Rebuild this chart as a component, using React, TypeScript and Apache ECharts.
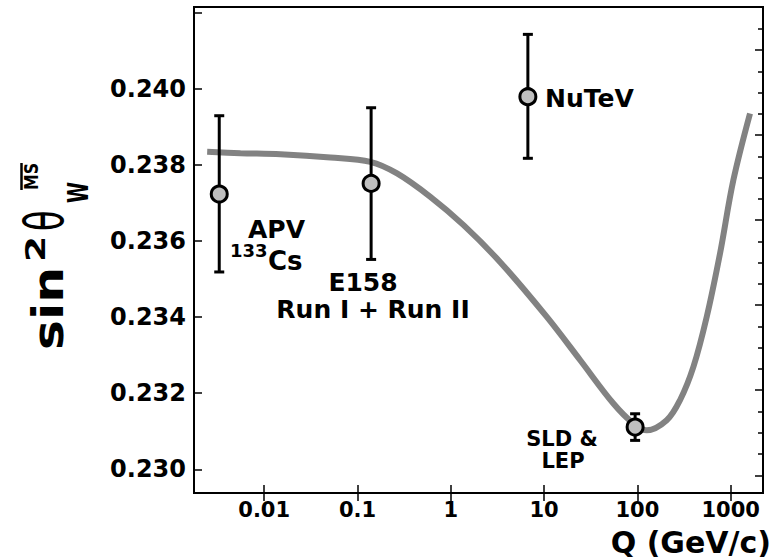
import React, { useEffect, useRef } from "react";
import * as echarts from "echarts";

// ---- Data ----
const pointNames = ["APV 133Cs", "E158", "NuTeV", "SLD & LEP"];
const pointQ = [0.0033, 0.14, 6.7, 94.5];
const pointVal = [0.23724, 0.23752, 0.2398, 0.23111];
const errLow = [0.23519, 0.23552, 0.23818, 0.23076];
const errHigh = [0.2393, 0.23951, 0.24144, 0.23146];

const curveQ = [
  0.00245, 0.00557, 0.01495, 0.0513, 0.1374, 0.2655, 0.604, 1.371, 3.39,
  10.7, 24.4, 55.3, 90.6, 126, 206, 286, 398, 553, 768, 1067, 1610,
];
const curveVal = [
  0.23835, 0.238316, 0.238289, 0.238203, 0.238087, 0.237782, 0.237166,
  0.236421, 0.235447, 0.234008, 0.232868, 0.231729, 0.231203, 0.231026,
  0.231289, 0.231816, 0.232692, 0.234008, 0.235676, 0.237605, 0.239361,
];

const xTickValues = [0.01, 0.1, 1, 10, 100, 1000];
const xTickLabels = ["0.01", "0.1", "1", "10", "100", "1000"];
const yTickValues = [0.23, 0.232, 0.234, 0.236, 0.238, 0.24, 0.242];
const yLabelValues = [0.23, 0.232, 0.234, 0.236, 0.238, 0.24];
const rightMajorTicks = [17.7, 102.7, 187.7, 272.7, 357.7, 442.7];
const rightMinorTicks = [
  38.95, 60.2, 81.45, 123.95, 145.2, 166.45, 208.95, 230.2, 251.45, 293.95,
  315.2, 336.45, 378.95, 400.2, 421.45, 463.95,
];

const FONT = "DejaVu Sans";

export default function App() {
  const ref = useRef<HTMLDivElement>(null);

  useEffect(() => {
    if (!ref.current) return;
    const chart = echarts.init(ref.current, null, { renderer: "svg" });

    const curveData = curveQ.map((q, i) => [q, curveVal[i]]);
    const errData = pointQ.map((q, i) => [q, errLow[i], errHigh[i]]);
    const ptData = pointQ.map((q, i) => ({ name: pointNames[i], value: [q, pointVal[i]] }));

    const tickStyle = { color: "#000", width: 1.5 };

    const option: any = {
      animation: false,
      backgroundColor: "#fff",
      grid: {
        left: 194,
        right: 12,
        top: 7,
        bottom: 66,
        show: true,
        borderColor: "#000",
        borderWidth: 2,
        backgroundColor: "transparent",
      },
      xAxis: [
        {
          type: "log",
          position: "bottom",
          min: 0.00177,
          max: 2218,
          axisLine: { show: false },
          splitLine: { show: false },
          axisTick: {
            show: true,
            inside: true,
            length: 8,
            lineStyle: tickStyle,
            customValues: xTickValues,
          },
          axisLabel: {
            customValues: xTickValues,
            formatter: (v: number) => {
              let best = 0;
              let bd = Infinity;
              xTickValues.forEach((t, i) => {
                const d = Math.abs(Math.log10(t) - Math.log10(v));
                if (d < bd) {
                  bd = d;
                  best = i;
                }
              });
              return xTickLabels[best];
            },
            color: "#000",
            fontFamily: FONT,
            fontWeight: "bold",
            fontSize: 21,
            margin: 6,
          },
        },
        {
          type: "log",
          position: "top",
          min: 0.00177,
          max: 2218,
          axisLine: { show: false },
          splitLine: { show: false },
          axisTick: {
            show: true,
            inside: true,
            length: 8,
            lineStyle: tickStyle,
            customValues: xTickValues,
          },
          axisLabel: { show: false },
        },
      ],
      yAxis: [
        {
          type: "value",
          position: "left",
          min: 0.229376,
          max: 0.24216,
          axisLine: { show: false },
          splitLine: { show: false },
          axisTick: {
            show: true,
            inside: true,
            length: 8,
            lineStyle: tickStyle,
            customValues: yTickValues,
          },
          axisLabel: {
            customValues: yLabelValues,
            formatter: (v: number) => v.toFixed(3),
            color: "#000",
            fontFamily: FONT,
            fontWeight: "bold",
            fontSize: 24,
            margin: 8,
          },
        },
        {
          type: "value",
          position: "right",
          min: 0,
          max: 485.7,
          axisLine: { show: false },
          splitLine: { show: false },
          axisTick: {
            show: true,
            inside: true,
            length: 8,
            lineStyle: tickStyle,
            customValues: rightMajorTicks,
          },
          axisLabel: { show: false },
        },
        {
          type: "value",
          position: "right",
          min: 0,
          max: 485.7,
          axisLine: { show: false },
          splitLine: { show: false },
          axisTick: {
            show: true,
            inside: true,
            length: 5,
            lineStyle: tickStyle,
            customValues: rightMinorTicks,
          },
          axisLabel: { show: false },
        },
      ],
      series: [
        {
          type: "line",
          xAxisIndex: 0,
          yAxisIndex: 0,
          data: curveData,
          smooth: 0.35,
          showSymbol: false,
          symbol: "none",
          lineStyle: { color: "#828282", width: 6 },
          z: 2,
        },
        {
          type: "custom",
          xAxisIndex: 0,
          yAxisIndex: 0,
          data: errData,
          encode: { x: 0, y: [1, 2] },
          z: 3,
          renderItem: (params: any, api: any) => {
            const q = api.value(0);
            const lo = api.coord([q, api.value(1)]);
            const hi = api.coord([q, api.value(2)]);
            const cap = 5;
            const st = { stroke: "#000", lineWidth: 3 };
            return {
              type: "group",
              children: [
                { type: "line", shape: { x1: hi[0], y1: hi[1], x2: lo[0], y2: lo[1] }, style: st },
                { type: "line", shape: { x1: hi[0] - cap, y1: hi[1], x2: hi[0] + cap, y2: hi[1] }, style: st },
                { type: "line", shape: { x1: lo[0] - cap, y1: lo[1], x2: lo[0] + cap, y2: lo[1] }, style: st },
              ],
            };
          },
        },
        {
          type: "scatter",
          xAxisIndex: 0,
          yAxisIndex: 0,
          data: ptData,
          symbol: "circle",
          symbolSize: 16,
          itemStyle: { color: "#bfbfbf", borderColor: "#000", borderWidth: 3, opacity: 1 },
          z: 4,
        },
      ],
      graphic: [
        // y-axis title: sin^2 theta_W^(MS-bar), rotated
        {
          type: "group",
          x: 52,
          y: 350,
          rotation: Math.PI / 2,
          children: [
            {
              type: "text",
              x: 0,
              y: -3.5,
              scaleX: 1.2,
              style: { text: "sin", fontFamily: FONT, fontWeight: "bold", fontSize: 42, fill: "#000", align: "left", verticalAlign: "middle" },
            },
            {
              type: "text",
              x: 88,
              y: -16.3,
              scaleX: 1.4,
              style: { text: "2", fontFamily: FONT, fontWeight: "bold", fontSize: 27, fill: "#000", align: "left", verticalAlign: "middle" },
            },
            {
              type: "text",
              x: 119,
              y: -8,
              scaleX: 0.62,
              style: { text: "θ", fontFamily: FONT, fontWeight: "normal", fontSize: 54, fill: "#000", align: "left", verticalAlign: "middle" },
            },
            {
              type: "text",
              x: 147,
              y: 26.3,
              scaleX: 0.68,
              style: { text: "W", fontFamily: FONT, fontWeight: "bold", fontSize: 28, fill: "#000", align: "left", verticalAlign: "middle" },
            },
            {
              type: "text",
              x: 160,
              y: -20.6,
              scaleX: 0.83,
              style: { text: "MS", fontFamily: FONT, fontWeight: "bold", fontSize: 19, fill: "#000", align: "left", verticalAlign: "middle" },
            },
            {
              type: "line",
              shape: { x1: 160, y1: -30.5, x2: 187, y2: -30.5 },
              style: { stroke: "#000", lineWidth: 2.5 },
            },
          ],
        },
        // x-axis title
        {
          type: "text",
          right: 4,
          top: 527,
          style: { text: "Q (GeV/c)", fontFamily: FONT, fontWeight: "bold", fontSize: 30, fill: "#000" },
        },
        // point annotations
        {
          type: "text",
          x: 248,
          y: 229.4,
          style: { text: "APV", fontFamily: FONT, fontWeight: "bold", fontSize: 25, fill: "#000", align: "left", verticalAlign: "middle" },
        },
        {
          type: "text",
          x: 230,
          y: 250.8,
          style: { text: "133", fontFamily: FONT, fontWeight: "bold", fontSize: 18, fill: "#000", align: "left", verticalAlign: "middle" },
        },
        {
          type: "text",
          x: 268,
          y: 261,
          style: { text: "Cs", fontFamily: FONT, fontWeight: "bold", fontSize: 26, fill: "#000", align: "left", verticalAlign: "middle" },
        },
        {
          type: "text",
          x: 363,
          y: 282,
          style: { text: "E158", fontFamily: FONT, fontWeight: "bold", fontSize: 25, fill: "#000", align: "center", verticalAlign: "middle" },
        },
        {
          type: "text",
          x: 373,
          y: 309.5,
          style: { text: "Run I + Run II", fontFamily: FONT, fontWeight: "bold", fontSize: 25, fill: "#000", align: "center", verticalAlign: "middle" },
        },
        {
          type: "text",
          x: 545,
          y: 98.3,
          style: { text: "NuTeV", fontFamily: FONT, fontWeight: "bold", fontSize: 25, fill: "#000", align: "left", verticalAlign: "middle" },
        },
        {
          type: "text",
          x: 562,
          y: 439,
          style: { text: "SLD &", fontFamily: FONT, fontWeight: "bold", fontSize: 21, fill: "#000", align: "center", verticalAlign: "middle" },
        },
        {
          type: "text",
          x: 563,
          y: 461,
          style: { text: "LEP", fontFamily: FONT, fontWeight: "bold", fontSize: 21, fill: "#000", align: "center", verticalAlign: "middle" },
        },
      ],
    };

    chart.setOption(option);
    return () => chart.dispose();
  }, []);

  return (
    <div
      ref={ref}
      style={{ position: "fixed", left: 0, top: 0, width: 775, height: 559, background: "#fff" }}
    />
  );
}
